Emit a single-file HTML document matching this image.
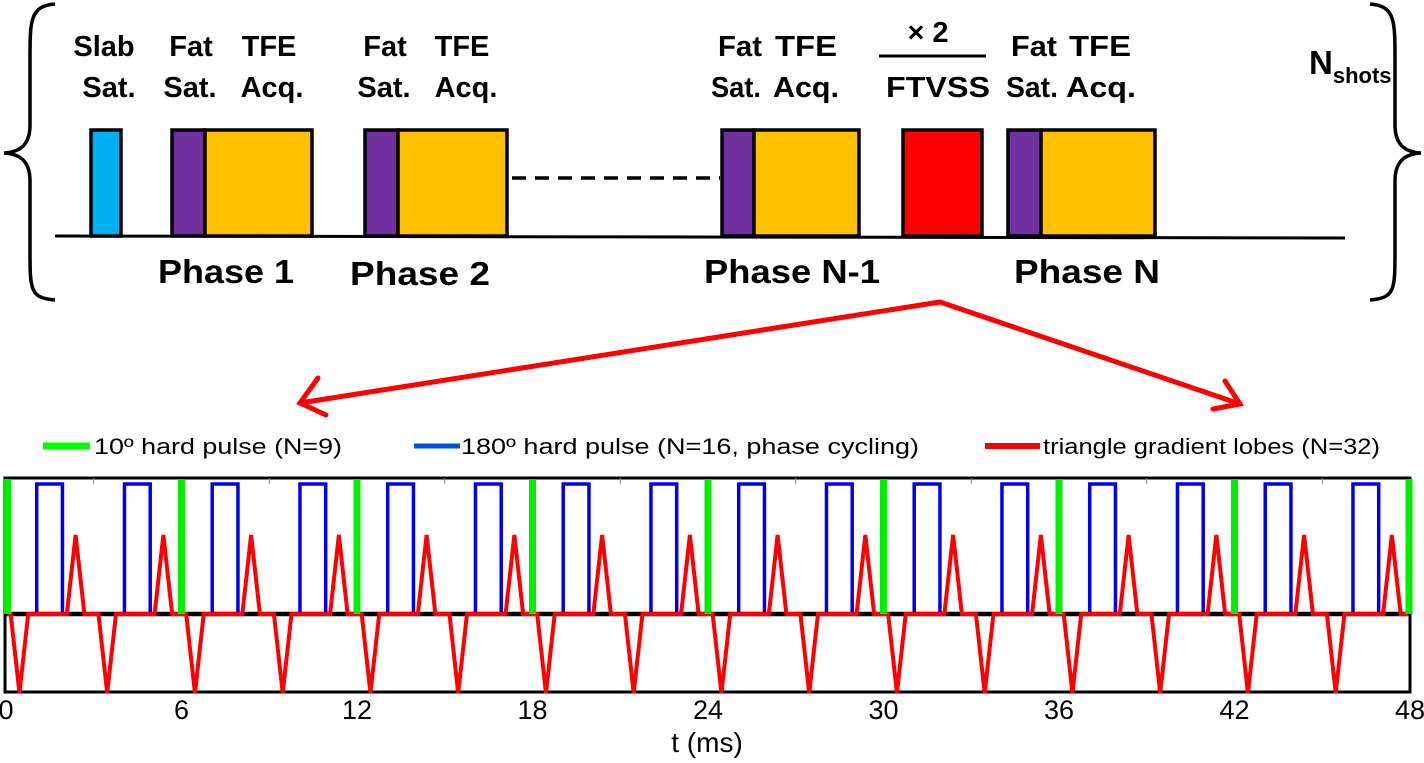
<!DOCTYPE html>
<html><head><meta charset="utf-8">
<style>
html,body{margin:0;padding:0;background:#fff;}
svg{display:block;font-family:"Liberation Sans",Arial,sans-serif;}
.b{font-weight:bold;}
</style></head>
<body>
<svg id="fig" width="1424" height="763" viewBox="0 0 1424 763">
  <path d="M55,4 C30,6 30,20 30,60 L30,125 C30,145 20,152 4,153 C20,154 30,161 30,181 L30,250 C30,290 30,298 55,300" fill="none" stroke="#000" stroke-width="3.5"/>
  <path d="M1370,4 C1395,6 1395,20 1395,60 L1395,125 C1395,145 1405,152 1421,153 C1405,154 1395,161 1395,181 L1395,250 C1395,290 1395,298 1370,300" fill="none" stroke="#000" stroke-width="3.5"/>

  <line x1="55" y1="236" x2="1345" y2="238" stroke="#000" stroke-width="3"/>
  <line x1="512" y1="178" x2="720" y2="178" stroke="#000" stroke-width="3.5" stroke-dasharray="14,9"/>

  <rect x="91" y="130" width="30" height="106" fill="#00b0f0" stroke="#000" stroke-width="3.5"/>
  <rect x="172" y="130" width="33" height="106" fill="#7030a0" stroke="#000" stroke-width="3.5"/>
  <rect x="205" y="130" width="107" height="106" fill="#ffc000" stroke="#000" stroke-width="3.5"/>
  <rect x="365" y="130" width="33" height="106" fill="#7030a0" stroke="#000" stroke-width="3.5"/>
  <rect x="398" y="130" width="109" height="106" fill="#ffc000" stroke="#000" stroke-width="3.5"/>
  <rect x="722" y="130" width="32" height="106" fill="#7030a0" stroke="#000" stroke-width="3.5"/>
  <rect x="754" y="130" width="105" height="106" fill="#ffc000" stroke="#000" stroke-width="3.5"/>
  <rect x="903" y="130" width="79" height="106" fill="#ff0000" stroke="#000" stroke-width="3.5"/>
  <rect x="1008" y="130" width="33" height="106" fill="#7030a0" stroke="#000" stroke-width="3.5"/>
  <rect x="1041" y="130" width="114" height="106" fill="#ffc000" stroke="#000" stroke-width="3.5"/>

  <g class="b" font-size="29" text-anchor="middle">
    <text x="104" y="56">Slab</text>
    <text x="109" y="97">Sat.</text>
    <text x="191" y="56">Fat</text>
    <text x="190" y="97">Sat.</text>
    <text x="269" y="56">TFE</text>
    <text x="272" y="97">Acq.</text>
    <text x="385" y="56">Fat</text>
    <text x="384" y="97">Sat.</text>
    <text x="462" y="56">TFE</text>
    <text x="466" y="97">Acq.</text>
    <text x="740" y="56" textLength="44" lengthAdjust="spacingAndGlyphs">Fat</text>
    <text x="736" y="97" textLength="50" lengthAdjust="spacingAndGlyphs">Sat.</text>
    <text x="806" y="56" textLength="62" lengthAdjust="spacingAndGlyphs">TFE</text>
    <text x="806" y="97" textLength="66" lengthAdjust="spacingAndGlyphs">Acq.</text>
    <text x="928" y="42">× 2</text>
    <text x="938" y="97" textLength="104" lengthAdjust="spacingAndGlyphs">FTVSS</text>
    <text x="1034" y="56" textLength="46" lengthAdjust="spacingAndGlyphs">Fat</text>
    <text x="1032" y="97" textLength="52" lengthAdjust="spacingAndGlyphs">Sat.</text>
    <text x="1100" y="56" textLength="62" lengthAdjust="spacingAndGlyphs">TFE</text>
    <text x="1101" y="97" textLength="70" lengthAdjust="spacingAndGlyphs">Acq.</text>
  </g>
  <line x1="879" y1="56" x2="986" y2="56" stroke="#000" stroke-width="3"/>
  <text x="1309" y="74" class="b" font-size="33">N<tspan font-size="22" dy="9">shots</tspan></text>

  <g class="b" font-size="33" text-anchor="middle">
    <text x="226" y="283" textLength="136" lengthAdjust="spacingAndGlyphs">Phase 1</text>
    <text x="420" y="285" textLength="140" lengthAdjust="spacingAndGlyphs">Phase 2</text>
    <text x="792" y="283" textLength="176" lengthAdjust="spacingAndGlyphs">Phase N-1</text>
    <text x="1087" y="283" textLength="146" lengthAdjust="spacingAndGlyphs">Phase N</text>
  </g>

  <g stroke="#ff0000" stroke-width="5" fill="none" stroke-linecap="round">
    <line x1="940" y1="302" x2="300" y2="403"/>
    <polyline points="318,378 300,403 326,415"/>
    <line x1="940" y1="302" x2="1240" y2="404"/>
    <polyline points="1225,381 1240,404 1213,409"/>
  </g>

  <g font-size="22">
    <line x1="43" y1="446" x2="90" y2="446" stroke="#00ff00" stroke-width="7"/>
    <text x="94" y="454" textLength="248" lengthAdjust="spacingAndGlyphs">10º hard pulse (N=9)</text>
    <line x1="414" y1="446" x2="460" y2="446" stroke="#0050e0" stroke-width="5"/>
    <text x="461" y="454" textLength="458" lengthAdjust="spacingAndGlyphs">180º hard pulse (N=16, phase cycling)</text>
    <line x1="985" y1="446" x2="1040" y2="446" stroke="#ff0000" stroke-width="6"/>
    <text x="1043" y="454" textLength="337" lengthAdjust="spacingAndGlyphs">triangle gradient lobes (N=32)</text>
  </g>

  <g id="chart"></g>
</svg>
<script>
const tickLabels = [0, 6, 12, 18, 24, 30, 36, 42, 48];
const greenPulseTimes = [0, 6, 12, 18, 24, 30, 36, 42, 48];
const bluePulseStarts = [1.05, 4.05, 7.05, 10.05, 13.05, 16.05, 19.05, 22.05, 25.05, 28.05, 31.05, 34.05, 37.05, 40.05, 43.05, 46.05];
const bluePulseWidth = 0.88;
const negLobeCenters = [0.46, 3.46, 6.46, 9.46, 12.46, 15.46, 18.46, 21.46, 24.46, 27.46, 30.46, 33.46, 36.46, 39.46, 42.46, 45.46];
const posLobeCenters = [2.38, 5.38, 8.38, 11.38, 14.38, 17.38, 20.38, 23.38, 26.38, 29.38, 32.38, 35.38, 38.38, 41.38, 44.38, 47.38];
const lobeHalfWidth = 0.3;
const blueAmp = 1.0;
const redAmp = 0.6;

const NS = 'http://www.w3.org/2000/svg';
const chart = document.getElementById('chart');
const X0 = 6, X1 = 1410, Y_BASE = 614, Y_TOP = 478, Y_BOT = 692;
function xs(t){ return X0 + (t - 0) / (48 - 0) * (X1 - X0); }
function yb(v){ return Y_BASE - v * (Y_BASE - 484); }
function yr(v){ return Y_BASE - v / redAmp * 79; }
function mk(tag, attrs){ const e = document.createElementNS(NS, tag); for (const k in attrs) e.setAttribute(k, attrs[k]); chart.appendChild(e); return e; }

const box = mk('rect', {x: 5, y: Y_TOP, width: X1 - 5, height: Y_BOT - Y_TOP, fill: 'none', stroke: '#000', 'stroke-width': 3});



[3, 9, 15, 21, 27, 33, 39, 45].forEach(t => {
  const tk = mk('line', {x1: xs(t), y1: Y_TOP, x2: xs(t), y2: Y_TOP + 6, stroke: '#888', 'stroke-width': 1});
  
  
});

let d = 'M' + xs(0) + ',' + Y_BASE;
bluePulseStarts.forEach(s => {
  const yt = yb(blueAmp);
  d += ' L' + xs(s) + ',' + Y_BASE + ' L' + xs(s) + ',' + yt + ' L' + xs(s + bluePulseWidth) + ',' + yt + ' L' + xs(s + bluePulseWidth) + ',' + Y_BASE;
});
const blue = mk('path', {d: d, fill: 'none', stroke: '#0000ee', 'stroke-width': 3.5});



const base = mk('line', {x1: 5, y1: Y_BASE, x2: X1, y2: Y_BASE, stroke: '#000', 'stroke-width': 4.5});



const lobes = [];
negLobeCenters.forEach(c => lobes.push([c, -redAmp]));
posLobeCenters.forEach(c => lobes.push([c, redAmp]));
lobes.sort((a, b) => a[0] - b[0]);
let rd = 'M' + xs(0.05) + ',' + Y_BASE;
lobes.forEach(l => {
  rd += ' L' + xs(l[0] - lobeHalfWidth) + ',' + Y_BASE + ' L' + xs(l[0]) + ',' + yr(l[1]) + ' L' + xs(l[0] + lobeHalfWidth) + ',' + Y_BASE;
});
rd += ' L' + xs(47.95) + ',' + Y_BASE;
const red = mk('path', {d: rd, fill: 'none', stroke: '#ff0000', 'stroke-width': 4});



greenPulseTimes.forEach(t => {
  const off = t === 0 ? 1.5 : (t === 48 ? -1 : 0);
  const g = mk('line', {x1: xs(t) + off, y1: Y_TOP + 1, x2: xs(t) + off, y2: Y_BASE, stroke: '#00ee00', 'stroke-width': 7});
  
  
});

tickLabels.forEach(v => {
  const tx = mk('text', {x: xs(v), y: 719, 'font-size': 27, 'text-anchor': 'middle'});
  tx.textContent = v;
  
  
});
const title = mk('text', {x: 707, y: 752, 'font-size': 28, 'text-anchor': 'middle'});
title.textContent = 't (ms)';


</script>
</body></html>
